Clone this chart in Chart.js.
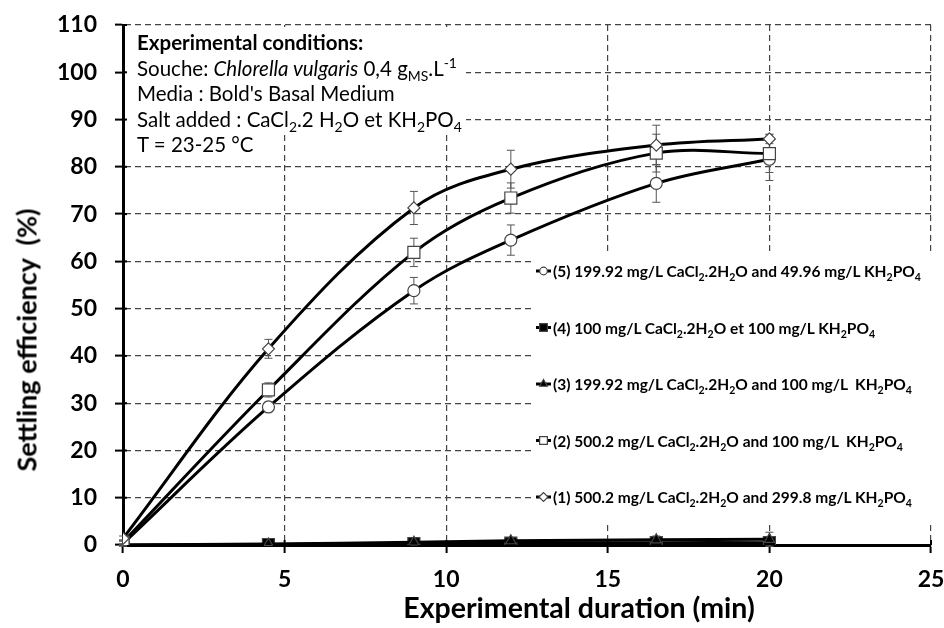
<!DOCTYPE html>
<html>
<head>
<meta charset="utf-8">
<script src="https://cdn.jsdelivr.net/npm/chart.js@4.4.0/dist/chart.umd.min.js"></script>
<style>
    body { margin: 0; background: #fff; }
    #wrap { position: relative; width: 944px; height: 628px; font-family: Lato, "Open Sans", sans-serif; color: #000; }
    #chart { position: absolute; left: 0; top: 0; }
    #conditions { position: absolute; left: 137px; top: 30px; font-size: 20.5px; line-height: 25.5px; white-space: nowrap; }
    #conditions sub, #legend sub, #conditions sup { font-size: 68%; line-height: 0; }
    .leg { position: absolute; left: 553px; font-size: 15.5px; font-weight: 700; white-space: nowrap; line-height: 20px; }
    #ytitle { position: absolute; left: 26px; top: 340px; transform: translate(-50%, -50%) rotate(-90deg); font-size: 27px; font-weight: 700; white-space: pre; }
    #xtitle { position: absolute; left: 579px; top: 607px; transform: translate(-50%, -50%); font-size: 28.5px; font-weight: 700; white-space: nowrap; }
</style>
</head>
<body>
<div id="wrap">
    <canvas id="chart" width="944" height="628"></canvas>
    <div id="conditions">
        <b>Experimental conditions:</b><br>
        Souche: <i>Chlorella vulgaris</i> 0,4 g<sub>MS</sub>.L<sup>-1</sup><br>
        Media : Bold's Basal Medium<br>
        Salt added : CaCl<sub>2</sub>.2 H<sub>2</sub>O et KH<sub>2</sub>PO<sub>4</sub><br>
        T = 23-25 °C
    </div>
    <div id="legend"></div>
    <div id="ytitle">Settling efficiency  (%)</div>
    <div id="xtitle">Experimental duration (min)</div>
</div>
<script>
"use strict";

// Data
var durations = [0, 4.5, 9, 12, 16.5, 20];
var eff1 = [1.4, 41.5, 71.3, 79.5, 84.6, 85.9];
var eff2 = [0.6, 32.8, 61.9, 73.4, 82.9, 82.8];
var eff3 = [0.0, 0.2, 0.6, 0.9, 1.1, 1.2];
var eff4 = [0.0, 0.1, 0.3, 0.4, 0.5, 0.5];
var eff5 = [0.3, 29.2, 53.8, 64.5, 76.5, 81.6];
var err1 = [0.5, 2.0, 3.5, 4.0, 4.2, 1.0];
var err2 = [0.5, 1.5, 3.0, 3.2, 4.0, 4.0];
var err3 = [0.2, 0.3, 0.4, 0.5, 0.8, 1.5];
var err4 = [0.2, 0.2, 0.3, 0.3, 0.4, 0.5];
var err5 = [0.5, 1.0, 2.8, 3.2, 4.0, 4.5];

// Legend entries, top to bottom
var legendLabels = [
    "(5) 199.92 mg/L CaCl<sub>2</sub>.2H<sub>2</sub>O and 49.96 mg/L KH<sub>2</sub>PO<sub>4</sub>",
    "(4) 100 mg/L CaCl<sub>2</sub>.2H<sub>2</sub>O et 100 mg/L KH<sub>2</sub>PO<sub>4</sub>",
    "(3) 199.92 mg/L CaCl<sub>2</sub>.2H<sub>2</sub>O and 100 mg/L&nbsp; KH<sub>2</sub>PO<sub>4</sub>",
    "(2) 500.2 mg/L CaCl<sub>2</sub>.2H<sub>2</sub>O and 100 mg/L&nbsp; KH<sub>2</sub>PO<sub>4</sub>",
    "(1) 500.2 mg/L CaCl<sub>2</sub>.2H<sub>2</sub>O and 299.8 mg/L KH<sub>2</sub>PO<sub>4</sub>"
];
var legendStyles = [
    { pointStyle: "circle", radius: 3.8, fill: "#fff" },
    { pointStyle: "rect", radius: 5.5, fill: "#000" },
    { pointStyle: "triangle", radius: 4.5, fill: "#000" },
    { pointStyle: "rect", radius: 5.5, fill: "#fff" },
    { pointStyle: "rectRot", radius: 4.5, fill: "#fff" }
];
var legendTop = 271, legendStep = 56.5;

// Build HTML legend text
var legendElem = document.getElementById("legend");
legendLabels.forEach(function (txt, i) {
    var d = document.createElement("div");
    d.className = "leg";
    d.style.top = (legendTop + i * legendStep - 10) + "px";
    d.innerHTML = txt;
    legendElem.appendChild(d);
});

function series(label, values, errors, style, radius, fill) {
    return {
        label: label,
        data: durations.map(function (x, i) { return { x: x, y: values[i] }; }),
        errors: errors,
        borderColor: "#000",
        borderWidth: 3,
        pointStyle: style,
        pointRadius: radius,
        pointBackgroundColor: fill,
        pointBorderColor: "#444",
        pointBorderWidth: 1.2,
        tension: 0.35,
        fill: false
    };
}

// White boxes, error bars, inner ticks and legend symbols
var overlayPlugin = {
    id: "overlay",
    beforeDatasetsDraw: function (chart) {
        var ctx = chart.ctx;
        var cond = document.getElementById("conditions");
        var condRight = cond.offsetLeft + cond.offsetWidth + 4;
        ctx.save();
        ctx.fillStyle = "#fff";
        ctx.fillRect(126, 27, condRight - 126, 108);
        ctx.fillRect(533, 253, 411, 272);

        // ticks crossing into the plot
        var xs = chart.scales.x, ys = chart.scales.y;
        ctx.strokeStyle = "#000";
        ctx.lineWidth = 2;
        xs.ticks.forEach(function (t, i) {
            var px = xs.getPixelForTick(i);
            ctx.beginPath(); ctx.moveTo(px, xs.top); ctx.lineTo(px, xs.top - 5); ctx.stroke();
        });
        ys.ticks.forEach(function (t, i) {
            var py = ys.getPixelForTick(i);
            ctx.beginPath(); ctx.moveTo(ys.right, py); ctx.lineTo(ys.right + 4, py); ctx.stroke();
        });

        // error bars
        ctx.strokeStyle = "#555";
        ctx.lineWidth = 1;
        chart.data.datasets.forEach(function (ds, di) {
            var meta = chart.getDatasetMeta(di);
            ds.data.forEach(function (p, i) {
                var px = meta.data[i].x;
                var top = ys.getPixelForValue(p.y + ds.errors[i]);
                var bot = ys.getPixelForValue(p.y - ds.errors[i]);
                ctx.beginPath();
                ctx.moveTo(px, top); ctx.lineTo(px, bot);
                ctx.moveTo(px - 4, top); ctx.lineTo(px + 4, top);
                ctx.moveTo(px - 4, bot); ctx.lineTo(px + 4, bot);
                ctx.stroke();
            });
        });

        // legend symbols
        legendStyles.forEach(function (s, i) {
            var y = legendTop + i * legendStep;
            ctx.strokeStyle = "#000";
            ctx.lineWidth = 3;
            ctx.beginPath(); ctx.moveTo(536, y); ctx.lineTo(551, y); ctx.stroke();
            ctx.fillStyle = s.fill;
            ctx.strokeStyle = "#444";
            ctx.lineWidth = 1.2;
            Chart.helpers.drawPoint(ctx, { pointStyle: s.pointStyle, radius: s.radius, rotation: 0, borderWidth: 1.2 }, 543.5, y);
        });
        ctx.restore();
    }
};

var tickFont = { family: "Lato", size: 23, weight: "bold" };

var chart = new Chart(document.getElementById("chart"), {
    type: "line",
    data: {
        datasets: [
            series("(1)", eff1, err1, "rectRot", 6, "#fff"),
            series("(2)", eff2, err2, "rect", 8.5, "#fff"),
            series("(5)", eff5, err5, "circle", 6, "#fff"),
            series("(3)", eff3, err3, "triangle", 6, "#000"),
            series("(4)", eff4, err4, "rect", 8.5, "#000")
        ]
    },
    options: {
        responsive: false,
        animation: false,
        devicePixelRatio: 1,
        layout: { padding: { top: 25, right: 13, left: 0, bottom: 0 } },
        plugins: { legend: { display: false }, tooltip: { enabled: false } },
        scales: {
            x: {
                type: "linear",
                min: 0, max: 25,
                ticks: { stepSize: 5, padding: 13, color: "#000", font: tickFont },
                grid: { color: "#444", lineWidth: 1.2, tickLength: 8, tickWidth: 2, tickColor: "#000" },
                border: { color: "#000", width: 3, dash: [6, 4] },
                afterFit: function (scale) {
                    scale.height = 83;
                    scale.paddingLeft = 0;
                    scale.paddingRight = 0;
                }
            },
            y: {
                min: 0, max: 110,
                ticks: { stepSize: 10, padding: 18, color: "#000", font: tickFont },
                grid: { color: "#444", lineWidth: 1.2, tickLength: 8, tickWidth: 2, tickColor: "#000" },
                border: { color: "#000", width: 3, dash: [6, 4] },
                afterFit: function (scale) {
                    scale.width = 123;
                    scale.paddingTop = 0;
                    scale.paddingBottom = 0;
                }
            }
        }
    },
    plugins: [overlayPlugin]
});
</script>
</body>
</html>
